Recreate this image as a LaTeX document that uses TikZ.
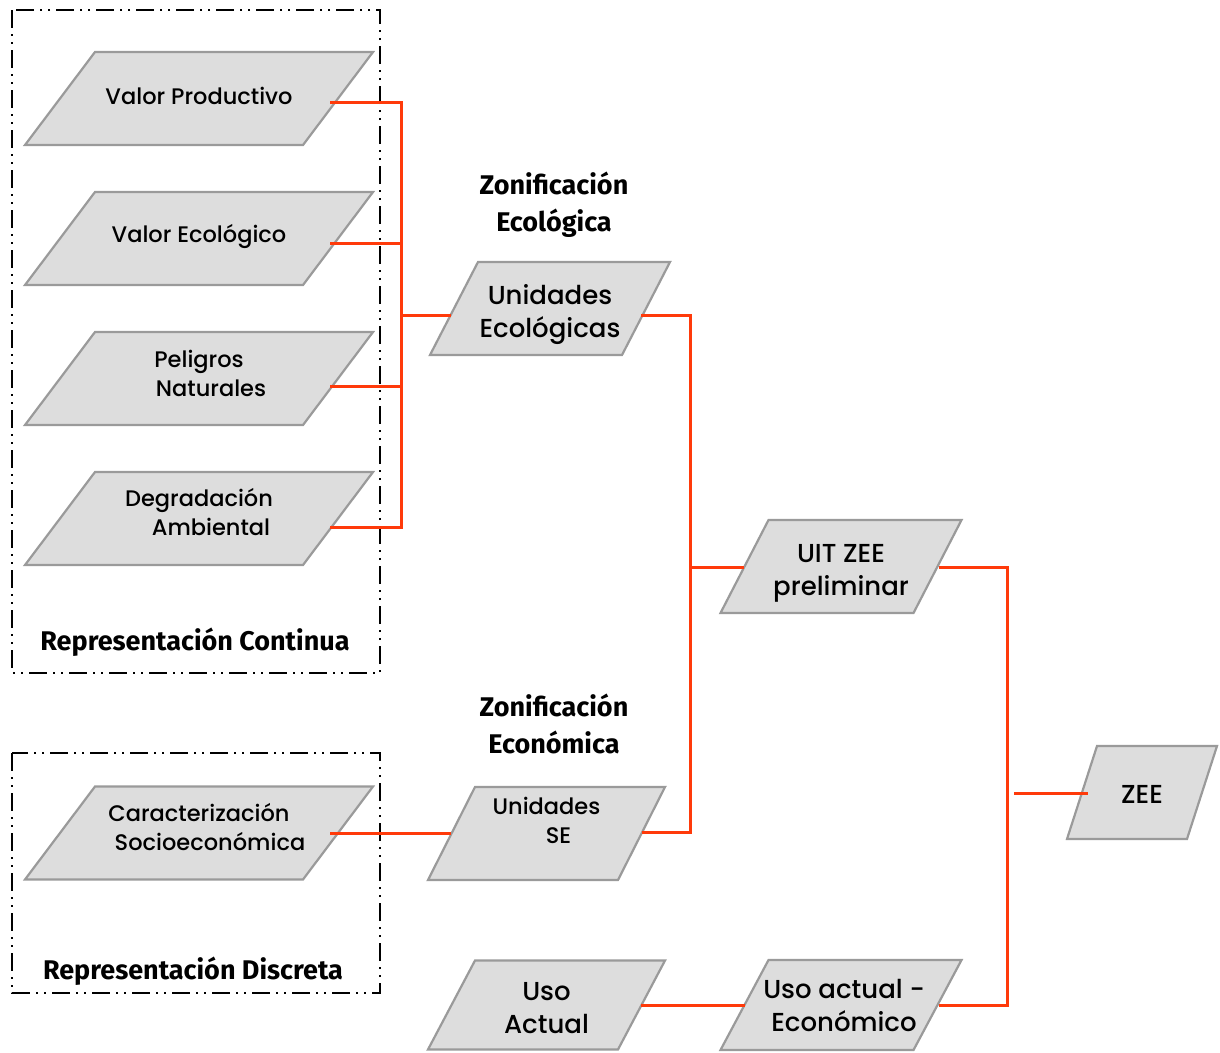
\documentclass[tikz,border=0pt]{standalone}
\usepackage{fontspec}
\setmainfont{Poppins}[UprightFont={* Medium}, BoldFont={* SemiBold}]
\newfontfamily\headfont{Fira Sans}
\usetikzlibrary{calc}
\definecolor{wirered}{HTML}{FF3A0A}
\definecolor{shapefill}{HTML}{DDDDDD}
\definecolor{shapeedge}{HTML}{9A9A9A}
\tikzset{
  pshape/.style={fill=shapefill, draw=shapeedge, line width=2.2pt, line join=miter},
  pbox/.style={inner sep=0pt, align=center, text=black},
  smalltxt/.style={font=\fontsize{22.5}{29}\selectfont},
  largetxt/.style={font=\fontsize{26}{33}\selectfont},
  wire/.style={draw=wirered, line width=3pt},
  groupbox/.style={draw=black, line width=2pt,
    dash pattern=on 18pt off 6pt on 2pt off 6pt on 2pt off 6pt},
  heading/.style={font=\headfont\bfseries\fontsize{27}{37}\selectfont, align=center},
}
% parallelogram: name, centre x, centre y, side, height, skew, node options, text
\newcommand\pgram[8]{%
  \draw[pshape] ({#2-#4/2-#6/2},{#3+#5/2}) -- ++(#4,0) -- ++(#6,-#5) -- ++(-#4,0) -- cycle;
  \node[pbox, minimum width=#4, minimum height=#5, #7] (#1) at (#2,#3) {#8};
}
\begin{document}
\begin{tikzpicture}[x=1pt,y=-1pt]
\useasboundingbox (0,0) rectangle (1220,1052);

% group frames
\draw[groupbox] (12,10) rectangle (380,673);
\draw[groupbox] (12,753) rectangle (380,993);

% input layers
\pgram{p1}{199}{98.5}{278}{93}{70}{smalltxt, yshift=3pt}{Valor Productivo}
\pgram{p2}{199}{238.5}{278}{93}{70}{smalltxt, yshift=2pt}{Valor Ecológico}
\pgram{p3}{199}{378.5}{278}{93}{70}{smalltxt, yshift=5pt}{Peligros\\\hspace*{24pt}Naturales}
\pgram{p4}{199}{518.5}{278}{93}{70}{smalltxt, yshift=6pt}{Degradación\\\hspace*{24pt}Ambiental}
\pgram{p5}{199}{833}{278}{93}{70}{smalltxt, yshift=6pt}{Caracterización\\\hspace*{22pt}Socioeconómica}

% intermediate and final products
\pgram{ue}{550}{308.5}{192}{93}{48}{largetxt, yshift=-6pt}{Unidades\\Ecológicas}
\pgram{use}{546.5}{833.5}{190}{93}{47}{smalltxt, yshift=13pt}{Unidades\\\hspace*{24pt}SE}
\pgram{uit}{841}{566.5}{193}{93}{48}{largetxt, yshift=-7pt}{UIT ZEE\\preliminar}
\pgram{zee}{1142}{792.5}{120}{93}{30}{largetxt, yshift=-2pt}{ZEE}
\pgram{ua}{546.5}{1005}{190}{89}{47}{largetxt, yshift=-3pt}{Uso\\Actual}
\pgram{uae}{841}{1005}{193}{90}{48}{largetxt, xshift=3pt}{Uso actual -\\Económico}

% headings
\node[heading] (hze) at (554,204.5) {Zonificación\\Ecológica};
\node[heading] (hzc) at (554,724) {Zonificación\\Económica};
\node[heading] (hrc) at (195,642) {Representación Continua};
\node[heading] (hrd) at (193,971) {Representación Discreta};

% bus positions
\coordinate (busA) at (401,0);
\coordinate (busB) at (690,0);
\coordinate (busC) at (1007,0);

% connection points
\coordinate (p1o) at ($(p1.east)+(-8,6.5)$);
\coordinate (p2o) at ($(p2.east)+(-8,6.5)$);
\coordinate (p3o) at ($(p3.east)+(-8,12.5)$);
\coordinate (p4o) at ($(p4.east)+(-8,14.5)$);
\coordinate (p5o) at ($(p5.east)+(-8,6)$);
\coordinate (uei) at ($(ue.west)+(-2.5,0.5)$);
\coordinate (ueo) at ($(ue.east)+(-5,0.5)$);
\coordinate (usei) at ($(use.west)+(0,12.5)$);
\coordinate (useo) at ($(use.east)+(0,11.5)$);
\coordinate (uiti) at ($(uit.west)+(0,-6.5)$);
\coordinate (uito) at ($(uit.east)+(1,-6.5)$);
\coordinate (zeei) at ($(zee.west)+(6,-1.5)$);
\coordinate (zeej) at ($(busC |- zeei)+(7,0)$);
\coordinate (uao) at ($(ua.east)+(-1,-3)$);
\coordinate (uaei) at ($(uae.west)+(-2,0)$);
\coordinate (uaeo) at ($(uae.east)+(-2,0)$);

% continuous layers into ecological units
\draw[wire] (p1o) -- (p1o -| busA) -- (p4o -| busA) -- (p4o);
\draw[wire] (p2o) -- (p2o -| busA);
\draw[wire] (p3o) -- (p3o -| busA);
\draw[wire] (uei -| busA) -- (uei);

% socio-economic characterisation
\draw[wire] (p5o) -- (usei);

% ecological + economic units into preliminary UIT
\draw[wire] (ueo) -- (ueo -| busB) -- (useo -| busB) -- (useo);
\draw[wire] (uiti -| busB) -- (uiti);

% current use
\draw[wire] (uao) -- (uaei);

% final zoning
\draw[wire] (uito) -- (uito -| busC) -- (uaeo -| busC) -- (uaeo);
\draw[wire] (zeej) -- (zeei);
\end{tikzpicture}
\end{document}
